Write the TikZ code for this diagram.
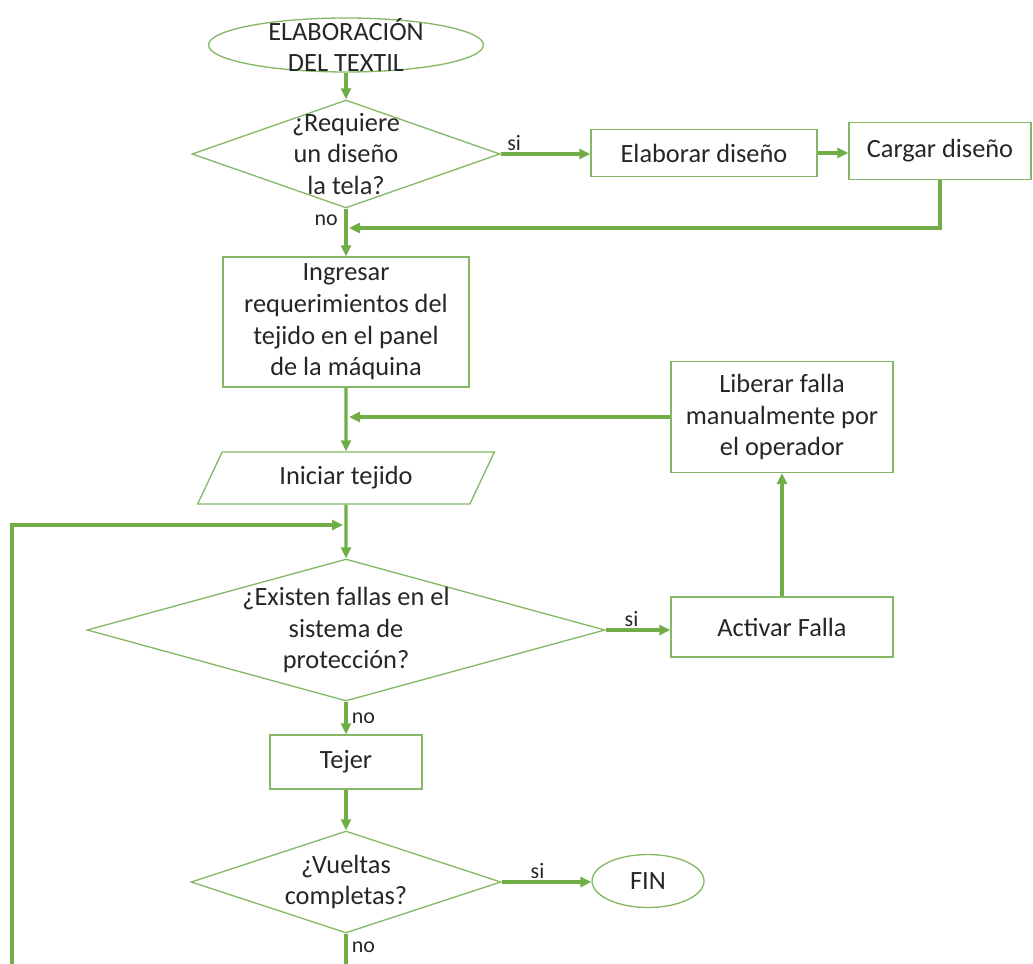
\documentclass[tikz,border=0pt]{standalone}
\usepackage{fontspec}
\setmainfont{Carlito}
\usetikzlibrary{shapes.geometric,arrows.meta}
\definecolor{flowgreen}{HTML}{70AD47}
\definecolor{boxgreen}{HTML}{84B864}
\definecolor{txtgray}{HTML}{262626}

\begin{document}
\begin{tikzpicture}[x=0.02cm, y=-0.02cm,
	flow/.style={line width=1.8pt, draw=flowgreen, -{Triangle[length=0.22cm,width=0.2cm]}},
	shapeline/.style={draw=boxgreen, line width=0.75pt, inner sep=0pt},
	txt/.style={text=txtgray, align=center, inner sep=0pt, font=\fontsize{15pt}{18pt}\selectfont},
	box/.style={shapeline, rectangle, txt},
	decision/.style={shapeline, diamond},
	terminal/.style={shapeline, ellipse},
	io/.style={shapeline, txt, trapezium, trapezium left angle=60, trapezium right angle=120, trapezium stretches=true},
	lab/.style={text=txtgray, inner sep=1pt, font=\fontsize{12.5pt}{15pt}\selectfont}]
	
	% Fix the frame of the picture
	\useasboundingbox (0,0) rectangle (1033,963);
	\clip (0,0) rectangle (1033,963);
	
	% Draw the start and the first decision
	\node[terminal, minimum width=5.5cm, minimum height=1.08cm, label={[txt]center:ELABORACIÓN\\DEL TEXTIL}] (start) at (346,45) {};
	\node[decision, minimum width=6.16cm, minimum height=2.16cm, label={[txt]center:¿Requiere\\un diseño\\la tela?}] (d1) at (346,154) {};
	\node[box, minimum width=4.52cm, minimum height=0.94cm] (elaborar) at (704,153) {Elaborar diseño};
	\node[box, minimum width=3.64cm, minimum height=1.14cm] (cargar) at (940,151) {Cargar diseño};
	
	% Draw the machine setup
	\node[box, minimum width=4.92cm, minimum height=2.6cm] (ingresar) at (346,322) {Ingresar\\requerimientos del\\tejido en el panel\\de la máquina};
	\node[box, minimum width=4.44cm, minimum height=2.22cm] (liberar) at (782,417) {Liberar falla\\manualmente por\\el operador};
	\node[io, minimum width=5.94cm, minimum height=1.04cm] (iniciar) at (346,478) {Iniciar tejido};
	
	% Draw the fault check and the weaving loop
	\node[decision, minimum width=10.36cm, minimum height=2.84cm, label={[txt]center:¿Existen fallas en el\\sistema de\\protección?}] (d2) at (346,630) {};
	\node[box, minimum width=4.44cm, minimum height=1.2cm] (activar) at (782,627) {Activar Falla};
	\node[box, minimum width=3.04cm, minimum height=1.08cm] (tejer) at (346,762) {Tejer};
	\node[decision, minimum width=6.2cm, minimum height=2.04cm, label={[txt]center:¿Vueltas\\completas?}] (vueltas) at (346,882) {};
	\node[terminal, txt, minimum width=2.24cm, minimum height=1.06cm] (fin) at (648,881) {FIN};
	
	% Points where the side branches join the main line
	\coordinate (join1) at (349,228);
	\coordinate (join2) at (349,417);
	\coordinate (join3) at (343,525);
	
	% Draw the connectors
	\draw[flow] (start) -- (d1);
	\draw[flow] (d1.east) -- node[lab, pos=0.15, above] {si} (d1.east -| elaborar.west);
	\draw[flow] (elaborar.east) -- (elaborar.east -| cargar.west);
	\draw[flow] (cargar.south) |- (join1);
	\draw[flow] (d1) -- node[lab, pos=0.25, left, xshift=-0.1cm] {no} (ingresar);
	\draw[flow] (ingresar) -- (iniciar);
	\draw[flow] (liberar) -- (join2);
	\draw[flow] (iniciar) -- (d2);
	\draw[flow] (d2.east) -- node[lab, pos=0.4, above] {si} (d2.east -| activar.west);
	\draw[flow] (activar) -- (liberar);
	\draw[flow] (d2) -- node[lab, pos=0.5, right, xshift=0.05cm] {no} (tejer);
	\draw[flow] (tejer) -- (vueltas);
	\draw[flow] (vueltas.east) -- node[lab, pos=0.4, above] {si} (vueltas.east -| fin.west);
	\draw[flow] (vueltas.south) |- node[lab, pos=0.1, right, xshift=0.05cm] {no} (12,1000) |- (join3);
	
\end{tikzpicture}
\end{document}
